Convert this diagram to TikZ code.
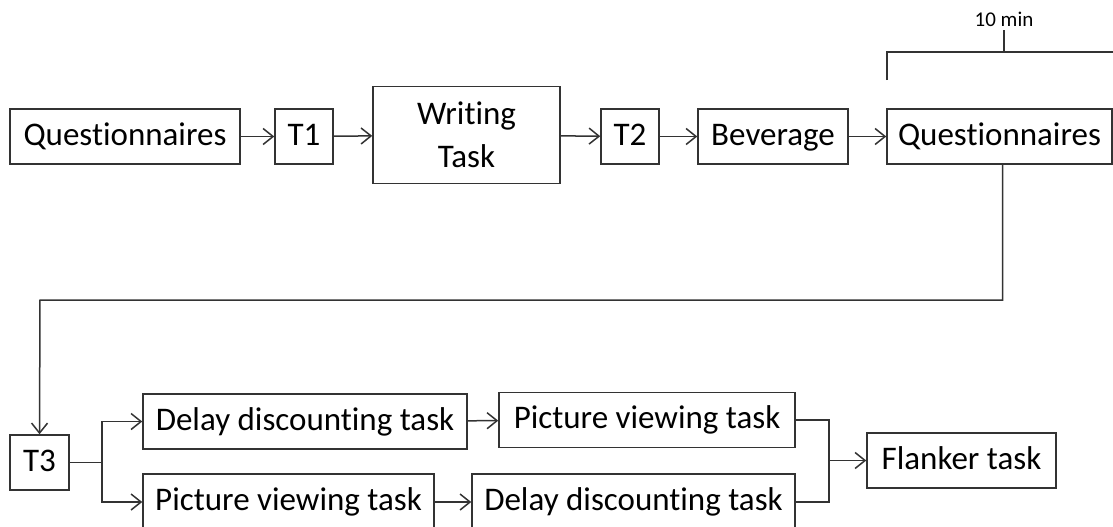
\documentclass[tikz,border=0pt]{standalone}
\usepackage{fontspec}
\setmainfont{Carlito}[Ligatures={NoCommon}]
\usetikzlibrary{arrows.meta}
\tikzset{
	stepbox/.style={draw=black!80, line width=1.5pt, inner sep=0pt, minimum height=55pt, font=\fontsize{33}{43}\selectfont},
	taskbox/.style={stepbox, text height=24pt, text depth=7pt},
	flow/.style={draw=black!80, line width=1.5pt},
	arr/.style={flow, -{Straight Barb[length=10pt,width=16pt]}}
}

\begin{document}
\begin{tikzpicture}[x=1pt, y=-1pt]
			%%%%% START %%%%%
			\useasboundingbox (0, 0) rectangle (1113, 527);
			\clip (0, 0) rectangle (1113, 527);
			
			% first row
			\node[taskbox, minimum width=230pt] (quest1) at (125, 136.5) {Questionnaires};
			\node[taskbox, minimum width=58pt] (tone) at (304, 136.5) {T1};
			\node[stepbox, minimum width=187pt, minimum height=97pt, align=center] (writing) at (466.5, 135) {Writing\\Task};
			\node[taskbox, minimum width=58pt] (ttwo) at (630, 136.5) {T2};
			\node[taskbox, minimum width=150pt] (beverage) at (773, 136.5) {Beverage};
			\node[taskbox, minimum width=225pt] (quest2) at (999.5, 136.5) {Questionnaires};
			
			\draw[arr] (quest1) -- (tone);
			\draw[arr] (tone) -- (writing);
			\draw[arr] (writing) -- (ttwo);
			\draw[arr] (ttwo) -- (beverage);
			\draw[arr] (beverage) -- (quest2);
			
			% 10 min bracket
			\coordinate (brleft) at (887, 80);
			\coordinate (brright) at (1113, 52);
			\coordinate (brtick) at (1004, 52);
			\node[font=\fontsize{21}{24}\selectfont, inner sep=0pt] (tenmin) at (1004, 19) {10 min};
			\draw[flow] (brleft) |- (brright);
			\draw[flow] (brtick) -- ++(0, -22);
			
			% second row
			\node[taskbox, minimum width=59pt] (tthree) at (39.5, 462.5) {T3};
			\node[taskbox, minimum width=324pt] (delay1) at (305, 421.5) {Delay discounting task};
			\node[taskbox, minimum width=296pt] (picture1) at (647, 420) {Picture viewing task};
			\node[taskbox, minimum width=291pt, minimum height=56pt] (picture2) at (288.5, 502) {Picture viewing task};
			\node[taskbox, minimum width=323pt, minimum height=56pt] (delay2) at (633.5, 502) {Delay discounting task};
			\node[taskbox, minimum width=189pt] (flanker) at (961.5, 460.5) {Flanker task};
			
			\coordinate (bend) at (40, 300);
			\draw[arr] ([xshift=3pt]quest2.south) |- (bend) -- (tthree.north);
			
			\coordinate (split) at (102, 462.5);
			\draw[flow] (tthree) -- (split);
			\draw[arr] (split) |- (delay1);
			\draw[arr] (split) |- (picture2);
			\draw[arr] (delay1) -- (picture1);
			\draw[arr] (picture2) -- (delay2);
			
			\coordinate (merge) at (829, 460.5);
			\draw[flow] (picture1) -| (merge);
			\draw[flow] (delay2) -| (merge);
			\draw[arr] (merge) -- (flanker);
			%%%%% END %%%%%
		\end{tikzpicture}
\end{document}
